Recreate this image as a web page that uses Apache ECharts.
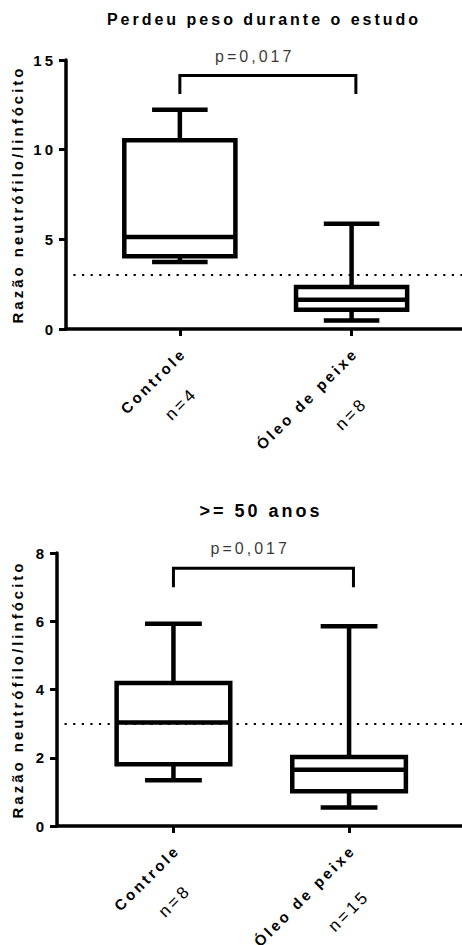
<!DOCTYPE html>
<html>
<head>
<meta charset="utf-8">
<script src="https://cdn.jsdelivr.net/npm/echarts@6/dist/echarts.min.js"></script>
<style>
  html, body { margin: 0; padding: 0; background: #fff; }
  #chart { width: 462px; height: 945px; letter-spacing: 3px; }
</style>
</head>
<body>
<div id="chart"></div>
<script>
// ---- data ----
const groups = ['Controle', 'Óleo de peixe'];
const titles = ['Perdeu peso durante o estudo', '>= 50 anos'];
const nTop = [4, 8];
const nBottom = [8, 15];
// [min, Q1, median, Q3, max]
const boxTop = [[3.74, 4.05, 5.13, 10.52, 12.23], [0.48, 1.08, 1.63, 2.34, 5.87]];
const boxBottom = [[1.34, 1.81, 3.03, 4.19, 5.93], [0.54, 1.02, 1.65, 2.02, 5.85]];
const yMax = [15, 8];
const yInterval = [5, 2];
const refLine = 3;
const pText = 'p=0,017';
const bracketTop = [13.1, 14.13];   // leg end, bar level
const bracketBottom = [7.0, 7.55];
const pLevel = [15.22, 8.12];
const yName = 'Razão neutrófilo/linfócito';

// ---- layout / style constants ----
const FONT = 'Liberation Sans';
const BOX_W = 0.647;      // box width in x units
const LW = 4.5;
const X_MIN = -0.663, X_MAX = 1.643;
const REF_START = -0.62;  // dotted line starts a little right of the y axis
const BRACKET_X = [0, 1.025];

function boxRender(params, api) {
  const x = api.value(0);
  const v = [1, 2, 3, 4, 5].map(i => api.value(i));
  const half = api.size([BOX_W, 0])[0] / 2;
  const p = v.map(val => api.coord([x, val]));
  const cx = p[0][0];
  const st = { stroke: '#000', lineWidth: LW, fill: 'none' };
  const line = (x1, y1, x2, y2) => ({ type: 'line', shape: { x1, y1, x2, y2 }, style: st });
  return {
    type: 'group',
    children: [
      { type: 'rect', shape: { x: cx - half, y: p[3][1], width: 2 * half, height: p[1][1] - p[3][1] }, style: st },
      line(cx - half, p[2][1], cx + half, p[2][1]),
      line(cx, p[3][1], cx, p[4][1]),
      line(cx, p[1][1], cx, p[0][1]),
      line(cx - half / 2, p[4][1], cx + half / 2, p[4][1]),
      line(cx - half / 2, p[0][1], cx + half / 2, p[0][1])
    ]
  };
}

function xAxisDef(gridIndex, counts) {
  return {
    type: 'value', gridIndex, min: X_MIN, max: X_MAX,
    axisLine: { show: true, onZero: false, lineStyle: { color: '#000', width: 3.5 } },
    axisTick: { show: true, customValues: [0, 1], length: 7, lineStyle: { color: '#000', width: 3 } },
    splitLine: { show: false },
    axisLabel: {
      customValues: [0, 1], rotate: 45, margin: 17.7, align: 'right', verticalAlign: 'top',
      formatter: (val) => { const i = Math.round(val); return '{a|' + groups[i] + '}\n{b' + i + '|n=' + counts[i] + '}'; },
      rich: {
        a: { fontFamily: FONT, fontWeight: 'bold', fontSize: 15, color: '#000', lineHeight: 10.6, align: 'right' },
        b0: { fontFamily: FONT, fontSize: 17, color: '#000', lineHeight: 61.8, align: 'center', padding: [0, 17.5, 0, 0] },
        b1: { fontFamily: FONT, fontSize: 17, color: '#000', lineHeight: 73.8, align: 'center', padding: [0, 0, 0, 2] }
      }
    }
  };
}

function yAxisDef(gridIndex, max, interval, nameGap) {
  return {
    type: 'value', gridIndex, min: 0, max, interval,
    axisLine: { show: true, onZero: false, lineStyle: { color: '#000', width: 3.5 } },
    axisTick: { show: true, length: 7, lineStyle: { color: '#000', width: 3 } },
    splitLine: { show: false },
    axisLabel: { fontFamily: FONT, fontWeight: 'bold', fontSize: 15, color: '#000', margin: 10 },
    name: yName, nameLocation: 'middle', nameGap,
    nameTextStyle: { fontFamily: FONT, fontWeight: 'bold', fontSize: 15, color: '#000' }
  };
}

function seriesFor(idx, boxes, bracket, pY) {
  return [
    {
      type: 'custom', xAxisIndex: idx, yAxisIndex: idx, renderItem: boxRender, silent: true,
      encode: { x: 0, y: [1, 2, 3, 4, 5] },
      data: groups.map((g, i) => [i].concat(boxes[i])),
      markLine: {
        silent: true, symbol: ['none', 'none'], label: { show: false },
        lineStyle: { color: '#000', width: 2.2, type: [2.2, 6.4] },
        data: [[{ coord: [REF_START, refLine] }, { coord: [X_MAX, refLine] }]]
      }
    },
    {
      type: 'line', xAxisIndex: idx, yAxisIndex: idx, silent: true, symbol: 'none',
      lineStyle: { color: '#000', width: 3, join: 'miter' },
      data: [[BRACKET_X[0], bracket[0]], [BRACKET_X[0], bracket[1]], [BRACKET_X[1], bracket[1]], [BRACKET_X[1], bracket[0]]]
    },
    {
      type: 'scatter', xAxisIndex: idx, yAxisIndex: idx, silent: true, clip: false,
      symbolSize: 1, itemStyle: { color: 'rgba(0,0,0,0)' },
      label: { show: true, position: 'inside', formatter: pText, fontFamily: FONT, fontSize: 16, color: '#000', offset: [-11, 0] },
      data: [[0.5, pY]]
    }
  ];
}

const chart = echarts.init(document.getElementById('chart'), null, { renderer: 'svg' });
chart.setOption({
  animation: false,
  backgroundColor: '#fff',
  textStyle: { fontFamily: FONT },
  title: [
    { text: titles[0], left: 264, top: 11, textAlign: 'center', padding: 0,
      textStyle: { fontFamily: FONT, fontWeight: 'bold', fontSize: 16, color: '#000' } },
    { text: titles[1], left: 261, top: 502, textAlign: 'center', padding: 0,
      textStyle: { fontFamily: FONT, fontWeight: 'bold', fontSize: 18, color: '#000' } }
  ],
  grid: [
    { left: 66, top: 60, width: 396, height: 269, outerBoundsMode: 'none', containLabel: false },
    { left: 57, top: 553, width: 405, height: 273, outerBoundsMode: 'none', containLabel: false }
  ],
  xAxis: [xAxisDef(0, nTop), xAxisDef(1, nBottom)],
  yAxis: [yAxisDef(0, yMax[0], yInterval[0], 41), yAxisDef(1, yMax[1], yInterval[1], 32)],
  series: seriesFor(0, boxTop, bracketTop, pLevel[0]).concat(seriesFor(1, boxBottom, bracketBottom, pLevel[1]))
});
</script>
</body>
</html>
